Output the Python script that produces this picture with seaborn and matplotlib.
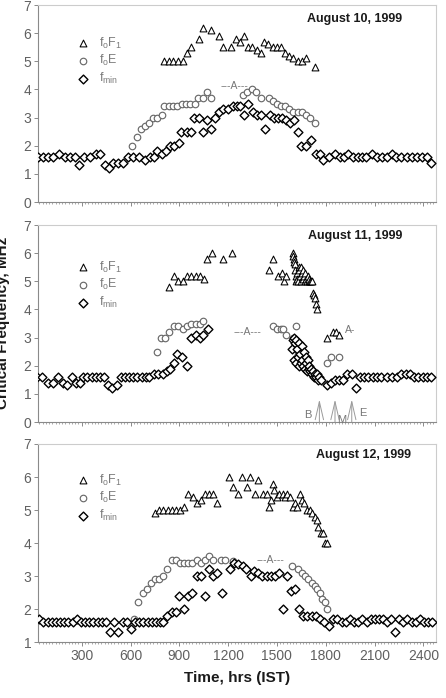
import numpy as np
import pandas as pd
import seaborn as sns
import matplotlib.pyplot as plt
from matplotlib.ticker import MultipleLocator

# ---- August 10 ----
aug10_fmin_t = [30, 60, 95, 125, 160, 195, 230, 260, 285, 315, 350, 385, 410, 440, 465, 495, 525, 555, 585, 615,
                655, 690, 720, 745, 765, 795, 820, 840, 865, 895, 910, 945, 970, 990, 1020, 1045, 1070, 1095, 1120, 1145,
                1170, 1200, 1230, 1255, 1275, 1300, 1325, 1350, 1375, 1400, 1425, 1455, 1480, 1505, 1530, 1555, 1580,
                1605, 1630, 1650, 1680, 1710, 1740, 1765, 1785, 1820, 1855, 1890, 1910, 1940, 1970, 2000, 2025, 2050,
                2085, 2115, 2145, 2175, 2210, 2235, 2265, 2300, 2330, 2360, 2390, 2420, 2445]
aug10_fmin = [1.6, 1.6, 1.6, 1.6, 1.7, 1.6, 1.6, 1.6, 1.3, 1.6, 1.6, 1.7, 1.7, 1.3, 1.2, 1.4, 1.4, 1.4, 1.6, 1.6,
              1.6, 1.5, 1.6, 1.6, 1.8, 1.7, 1.8, 2.0, 2.0, 2.1, 2.5, 2.5, 2.5, 3.0, 3.0, 2.5, 2.9, 2.6, 3.0, 3.2,
              3.3, 3.3, 3.4, 3.4, 3.4, 3.1, 3.5, 3.2, 3.1, 3.1, 2.6, 3.1, 3.0, 3.0, 3.0, 2.9, 2.8, 2.9, 2.5, 2.0,
              2.0, 2.2, 1.7, 1.7, 1.5, 1.6, 1.7, 1.6, 1.6, 1.7, 1.6, 1.6, 1.6, 1.6, 1.7, 1.6, 1.6, 1.6, 1.7, 1.6,
              1.6, 1.6, 1.6, 1.6, 1.6, 1.6, 1.4]
aug10_foe_t = [611, 638, 662, 689, 713, 740, 765, 791, 808, 834, 861, 888, 914, 941, 968, 994, 1017, 1043, 1068, 1095,
               1294, 1318, 1345, 1371, 1400, 1449, 1474, 1499, 1523, 1550, 1576, 1601, 1628, 1652, 1679, 1704, 1734]
aug10_foe = [2.0, 2.3, 2.6, 2.7, 2.8, 3.0, 3.0, 3.1, 3.4, 3.4, 3.4, 3.4, 3.5, 3.5, 3.5, 3.5, 3.7, 3.7, 3.9, 3.7,
             3.8, 3.9, 4.0, 3.9, 3.7, 3.7, 3.6, 3.5, 3.4, 3.4, 3.3, 3.2, 3.2, 3.2, 3.1, 3.0, 2.8]
aug10_fof1_t = [808, 838, 863, 890, 920, 949, 972, 1021, 1043, 1095, 1146, 1166, 1220, 1248, 1273, 1298, 1324, 1349,
                1376, 1400, 1423, 1447, 1474, 1499, 1523, 1550, 1576, 1601, 1628, 1652, 1679, 1734]
aug10_fof1 = [5.0, 5.0, 5.0, 5.0, 5.0, 5.3, 5.5, 5.8, 6.2, 6.1, 5.9, 5.5, 5.5, 5.8, 5.7, 5.9, 5.5, 5.5,
              5.4, 5.3, 5.7, 5.6, 5.5, 5.5, 5.5, 5.3, 5.2, 5.1, 5.0, 5.0, 5.1, 4.8]

# ---- August 11 (eclipse day) ----
aug11_fmin_t = [27, 57, 94, 125, 156, 182, 207, 238, 264, 289, 310, 334, 361, 387, 412, 437, 459, 486, 515, 539,
                566, 590, 617, 642, 668, 693, 715, 744, 771, 797, 822, 843, 867, 888, 914, 945, 972, 1000, 1027, 1048,
                1074,
                1590, 1597, 1602, 1606, 1610, 1615, 1620, 1625, 1630, 1634, 1638, 1643, 1648, 1652, 1657, 1662, 1666,
                1671, 1676, 1680, 1685, 1690, 1695, 1700, 1705, 1710, 1715, 1720, 1726, 1732, 1738, 1745, 1752, 1760,
                1768,
                1806, 1831, 1857, 1884, 1909, 1933, 1960, 1986, 2011, 2038, 2062, 2089, 2114, 2140, 2175, 2206, 2236,
                2263, 2292, 2318, 2345, 2370, 2396, 2421, 2448]
aug11_fmin = [1.6, 1.6, 1.4, 1.4, 1.6, 1.4, 1.3, 1.6, 1.4, 1.4, 1.6, 1.6, 1.6, 1.6, 1.6, 1.6, 1.3, 1.2, 1.3, 1.6,
              1.6, 1.6, 1.6, 1.6, 1.6, 1.6, 1.6, 1.7, 1.7, 1.7, 1.8, 1.9, 2.1, 2.4, 2.3, 2.0, 3.0, 3.1, 3.0, 3.1,
              3.3,
              2.6, 2.9, 3.0, 2.2, 2.8, 2.1, 2.9, 2.6, 2.3, 2.0, 2.8, 2.4, 2.1, 2.7, 2.2, 2.0, 2.5, 1.9, 2.3, 2.1,
              1.8, 2.2, 1.9, 2.0, 1.8, 1.9, 1.7, 1.8, 1.6, 1.7, 1.6, 1.7, 1.5, 1.6, 1.5,
              1.3, 1.4, 1.5, 1.5, 1.5, 1.7, 1.7, 1.2, 1.6, 1.6, 1.6, 1.6, 1.6, 1.6, 1.6, 1.6, 1.6, 1.7, 1.7, 1.7,
              1.6, 1.6, 1.6, 1.6, 1.6]
aug11_foe_t = [761, 787, 812, 838, 867, 894, 920, 945, 972, 1000, 1027, 1048,
               1474, 1499, 1523, 1540, 1556, 1617,
               1600, 1610, 1620, 1632, 1645, 1658, 1670, 1685, 1700, 1715, 1730, 1745,
               1806, 1830, 1884]
aug11_foe = [2.5, 3.0, 3.0, 3.2, 3.4, 3.4, 3.3, 3.4, 3.5, 3.5, 3.5, 3.6,
             3.4, 3.3, 3.3, 3.3, 3.1, 3.4,
             3.0, 2.8, 2.6, 2.4, 2.3, 2.2, 2.0, 1.9, 1.8, 1.7, 1.6, 1.6,
             2.1, 2.3, 2.3]
aug11_fof1_t = [838, 867, 890, 920, 945, 972, 1000, 1027, 1052, 1068, 1099, 1171, 1226, 1453, 1478, 1505, 1529, 1544,
                1556,
                1597, 1600, 1603, 1606, 1609, 1612, 1615, 1618, 1622, 1626, 1630, 1634, 1638, 1642, 1646, 1650, 1654,
                1658, 1662, 1666, 1670, 1675, 1680, 1685, 1690, 1695, 1700, 1705, 1710, 1714, 1724, 1730, 1736, 1742,
                1749,
                1806, 1847, 1864, 1884]
aug11_fof1 = [4.8, 5.2, 5.0, 5.0, 5.2, 5.2, 5.2, 5.2, 5.1, 5.8, 6.0, 5.8, 6.0, 5.4, 5.8, 5.2, 5.3, 5.0, 5.2,
              6.0, 5.9, 5.8, 5.7, 5.6, 5.4, 5.2, 5.0, 5.3, 5.1, 5.0, 5.5, 5.4, 5.2, 5.0, 5.5, 5.3, 5.1, 5.4, 5.2,
              5.0, 5.3, 5.1, 5.0, 5.2, 5.0, 5.1, 5.0, 5.0, 5.0, 4.6, 4.5, 4.4, 4.2, 4.0,
              3.0, 3.2, 3.2, 3.1]
eclipse_t = [1761, 1857, 1960]
eclipse_lab = ["B", "M", "E"]

# ---- August 12 ----
aug12_fmin_t = [39, 64, 90, 115, 142, 166, 193, 217, 244, 269, 295, 320, 346, 371, 398, 422, 449, 474, 498, 525,
                551, 576, 603, 627, 654, 679, 705, 730, 756, 781, 802, 826, 853, 877, 898, 929, 955, 980, 1007, 1031,
                1058, 1082, 1109, 1130, 1160, 1212, 1236, 1263, 1289, 1310, 1339, 1359, 1386, 1410, 1437, 1462, 1488,
                1515, 1540, 1564, 1585, 1611, 1636, 1663, 1687, 1714, 1740, 1765, 1792, 1818, 1847, 1872, 1898, 1923,
                1950, 1974, 2001, 2025, 2052, 2077, 2103, 2128, 2155, 2175, 2200, 2226, 2251, 2278, 2302, 2329, 2353,
                2380, 2405, 2431, 2456]
aug12_fmin = [1.7, 1.6, 1.6, 1.6, 1.6, 1.6, 1.6, 1.6, 1.6, 1.7, 1.6, 1.6, 1.6, 1.6, 1.6, 1.6, 1.6, 1.3, 1.6, 1.3,
              1.6, 1.6, 1.4, 1.6, 1.6, 1.6, 1.6, 1.6, 1.6, 1.6, 1.6, 1.8, 1.9, 1.9, 2.4, 2.0, 2.4, 2.5, 3.0, 3.0,
              2.4, 3.2, 3.0, 3.1, 2.5, 3.2, 3.4, 3.35, 3.3, 3.2, 3.0, 3.15, 3.1, 3.0, 3.0, 3.0, 3.0, 3.1, 2.0, 3.0,
              2.55, 2.6, 2.0, 1.8, 1.8, 1.8, 1.8, 1.7, 1.6, 1.5, 1.7, 1.7, 1.6, 1.6, 1.7, 1.6, 1.6, 1.7, 1.6, 1.7,
              1.7, 1.7, 1.7, 1.6, 1.7, 1.3, 1.7, 1.6, 1.7, 1.6, 1.6, 1.7, 1.6, 1.6, 1.6]
aug12_foe_t = [621, 648, 674, 699, 724, 750, 777, 802, 826, 853, 877, 904, 929, 955, 980, 1007, 1031, 1058, 1082,
               1109, 1154, 1181, 1228, 1591, 1632, 1652, 1673, 1693, 1718, 1734, 1749, 1765, 1779, 1796, 1810]
aug12_foe = [1.7, 2.2, 2.5, 2.6, 2.8, 2.9, 2.9, 3.0, 3.2, 3.5, 3.5, 3.4, 3.4, 3.4, 3.4, 3.5, 3.4, 3.5, 3.6,
             3.5, 3.5, 3.5, 3.45, 3.3, 3.2, 3.1, 3.0, 2.9, 2.8, 2.7, 2.6, 2.5, 2.3, 2.2, 2.0]
aug12_fof1_t = [750, 777, 802, 828, 853, 879, 904, 929, 955, 982, 1007, 1031, 1058, 1082, 1109, 1134, 1208, 1232,
                1259, 1287, 1314, 1335, 1365, 1386, 1412, 1437, 1453, 1462, 1474, 1482, 1499, 1515, 1535, 1550, 1564,
                1581, 1597, 1611, 1622, 1642, 1652, 1667, 1683, 1704, 1718, 1734, 1745, 1755, 1769, 1786, 1796, 1810]
aug12_fof1 = [4.9, 5.0, 5.0, 5.0, 5.0, 5.0, 5.0, 5.1, 5.5, 5.4, 5.2, 5.3, 5.5, 5.5, 5.5, 5.2, 6.0, 5.7,
              5.5, 6.0, 5.7, 6.0, 5.5, 5.9, 5.5, 5.5, 5.1, 5.3, 5.8, 5.6, 5.4, 5.5, 5.5, 5.4, 5.5,
              5.4, 5.1, 5.2, 5.1, 5.5, 5.3, 5.2, 5.0, 5.0, 4.9, 4.8, 4.7, 4.5, 4.3, 4.3, 4.0, 4.0]

x_ticks = [300, 600, 900, 1200, 1500, 1800, 2100, 2400]

sns.set_theme(style="ticks")
plt.rcParams['font.family'] = ['Liberation Sans', 'DejaVu Sans']
plt.rcParams['mathtext.fontset'] = 'custom'
plt.rcParams['mathtext.rm'] = 'Liberation Sans'
plt.rcParams['mathtext.it'] = 'Liberation Sans'

fig = plt.figure(figsize=(4.46, 6.98), dpi=100)
ax1 = fig.add_axes([0.0859, 0.7106, 0.8917, 0.2822])
ax2 = fig.add_axes([0.0859, 0.3954, 0.8917, 0.2822])
ax3 = fig.add_axes([0.0859, 0.0802, 0.8917, 0.2837])

GRAY = "#8a8a8a"


def draw(ax, f1, fe, fm, title, ymin, tpos, legpos):
    d1 = pd.DataFrame({"t": f1[0], "v": f1[1]})
    de = pd.DataFrame({"t": fe[0], "v": fe[1]})
    dm = pd.DataFrame({"t": fm[0], "v": fm[1]})
    sns.scatterplot(data=d1, x="t", y="v", marker="^", s=24, color="white", edgecolor="black",
                    linewidth=0.75, label=r"f$_{\rm o}$F$_{\rm 1}$", ax=ax, zorder=3)
    sns.scatterplot(data=de, x="t", y="v", marker="o", s=22, color="white", edgecolor="#6a6a6a",
                    linewidth=0.85, label=r"f$_{\rm o}$E", ax=ax, zorder=3)
    sns.scatterplot(data=dm, x="t", y="v", marker="D", s=20, color="white", edgecolor="black",
                    linewidth=1.0, label=r"f$_{\rm min}$", ax=ax, zorder=4)
    ax.set_xlim(33, 2478)
    ax.set_ylim(ymin, 7)
    ax.set_yticks(range(ymin, 8))
    ax.set_xticks(x_ticks)
    ax.xaxis.set_minor_locator(MultipleLocator(20))
    ax.set_xlabel("")
    ax.set_ylabel("")
    for side in ["left", "bottom"]:
        ax.spines[side].set_color(GRAY)
        ax.spines[side].set_linewidth(0.8)
    for side in ["top", "right"]:
        ax.spines[side].set_visible(True)
        ax.spines[side].set_color("#cccccc")
        ax.spines[side].set_linewidth(0.8)
    ax.tick_params(axis="both", which="major", colors=GRAY, labelcolor="#606060", labelsize=10,
                   length=3, width=0.7, pad=2)
    ax.tick_params(axis="x", which="minor", colors=GRAY, length=1.5, width=0.5)
    ax.text(tpos[0], tpos[1], title, transform=ax.transAxes, ha="right", va="center",
            fontsize=9, fontweight="bold", color="#1a1a1a")
    ax.legend(loc="upper left", bbox_to_anchor=legpos, frameon=False, fontsize=9,
              labelcolor="#7a7a7a", handletextpad=0.5, labelspacing=0.2, borderaxespad=0,
              handlelength=1.6)


draw(ax1, (aug10_fof1_t, aug10_fof1), (aug10_foe_t, aug10_foe), (aug10_fmin_t, aug10_fmin),
     "August 10, 1999", 0, (0.915, 0.93), (0.075, 0.87))
draw(ax2, (aug11_fof1_t, aug11_fof1), (aug11_foe_t, aug11_foe), (aug11_fmin_t, aug11_fmin),
     "August 11, 1999", 0, (0.915, 0.944), (0.075, 0.85))
draw(ax3, (aug12_fof1_t, aug12_fof1), (aug12_foe_t, aug12_foe), (aug12_fmin_t, aug12_fmin),
     "August 12, 1999", 1, (0.937, 0.944), (0.075, 0.88))

ax1.tick_params(axis="x", labelbottom=False)
ax2.tick_params(axis="x", labelbottom=False)

# "A" markers (absorption gaps)
ax1.text(1240, 4.12, "---A---", fontsize=7.5, color="#777777", ha="center", va="center")
ax2.text(1318, 3.2, "---A---", fontsize=7.5, color="#777777", ha="center", va="center")
ax2.text(1950, 3.28, "A-", fontsize=7.5, color="#777777", ha="center", va="center")
ax3.text(1462, 3.5, "---A---", fontsize=7.5, color="#777777", ha="center", va="center")

# eclipse begin / max / end arrows
for t, lab in zip(eclipse_t, eclipse_lab):
    ax2.annotate("", xy=(t, 0.8), xytext=(t, 0.0),
                 arrowprops=dict(arrowstyle="->,head_length=1.3,head_width=0.3", color="#9a9a9a",
                                 lw=0.7, shrinkA=0, shrinkB=0, mutation_scale=10))
ax2.text(1691, 0.25, eclipse_lab[0], fontsize=8, color="#777777", ha="center", va="center")
ax2.text(1898, 0.07, eclipse_lab[1], fontsize=8, color="#777777", ha="center", va="center")
ax2.text(2031, 0.32, eclipse_lab[2], fontsize=8, color="#777777", ha="center", va="center")

ax3.set_xlabel("Time, hrs (IST)", fontsize=11, fontweight="bold", color="#1a1a1a", labelpad=6)
fig.text(0.0235, 0.537, "Critical Frequency, MHz", rotation=90, ha="right", va="center",
         fontsize=11, fontweight="bold", color="#1a1a1a")

plt.savefig("out.png", dpi=100)
